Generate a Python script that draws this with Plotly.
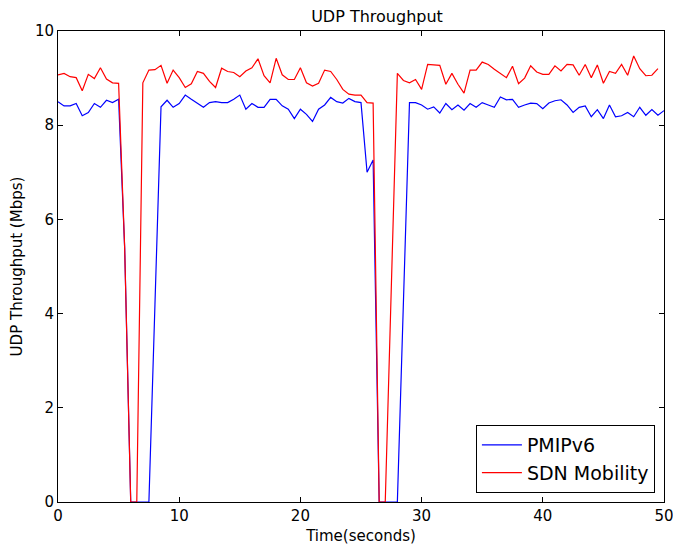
import plotly.graph_objects as go

time_red = [i * 0.5 for i in range(100)]
time_blue = [i * 0.5 for i in range(101)]

sdn_mobility = [
    9.07, 9.10, 9.03, 9.01, 8.73, 9.08, 8.99, 9.22, 8.98, 8.90,
    8.89, 5.40, 0.00, 0.00, 8.90, 9.17, 9.18, 9.27, 8.89, 9.17,
    9.01, 8.80, 8.88, 9.14, 9.10, 8.93, 8.80, 9.21, 9.14, 9.12,
    9.03, 9.15, 9.22, 9.41, 9.05, 8.90, 9.42, 9.07, 8.97, 8.97,
    9.22, 8.90, 8.83, 8.89, 9.17, 9.14, 8.97, 8.76, 8.66, 8.64,
    8.64, 8.48, 8.47, 0.00, 0.00, 4.55, 9.10, 8.95, 8.90, 8.97,
    8.76, 9.29, 9.28, 9.27, 8.87, 9.10, 8.87, 8.68, 9.17, 9.17,
    9.34, 9.29, 9.19, 9.10, 9.01, 9.25, 8.88, 9.00, 9.26, 9.13,
    9.08, 9.08, 9.26, 9.15, 9.29, 9.28, 9.06, 9.29, 9.01, 9.28,
    8.89, 9.14, 9.10, 9.29, 9.06, 9.47, 9.20, 9.05, 9.06, 9.20,
]

pmipv6 = [
    8.50, 8.41, 8.41, 8.46, 8.20, 8.27, 8.46, 8.38, 8.53, 8.48,
    8.55, 5.40, 0.00, 0.00, 0.00, 0.00, 4.20, 8.39, 8.53, 8.38,
    8.46, 8.64, 8.55, 8.47, 8.38, 8.48, 8.50, 8.48, 8.48, 8.55,
    8.64, 8.34, 8.46, 8.38, 8.38, 8.55, 8.55, 8.41, 8.34, 8.14,
    8.34, 8.23, 8.08, 8.34, 8.43, 8.59, 8.50, 8.47, 8.57, 8.50,
    8.48, 7.00, 7.26, 0.00, 0.00, 0.00, 0.00, 4.24, 8.48, 8.48,
    8.43, 8.34, 8.39, 8.26, 8.46, 8.33, 8.43, 8.32, 8.46, 8.38,
    8.48, 8.43, 8.38, 8.60, 8.54, 8.55, 8.38, 8.43, 8.47, 8.46,
    8.35, 8.47, 8.52, 8.54, 8.43, 8.27, 8.38, 8.41, 8.18, 8.33,
    8.14, 8.43, 8.18, 8.20, 8.27, 8.18, 8.38, 8.21, 8.33, 8.21,
    8.31,
]

x_ticks = [0, 10, 20, 30, 40, 50]
y_ticks = [0, 2, 4, 6, 8, 10]

FONT = "DejaVu Sans"

fig = go.Figure()
fig.add_trace(go.Scatter(x=time_blue, y=pmipv6, mode="lines", name="PMIPv6",
                         line=dict(color="#0000ff", width=1.2)))
fig.add_trace(go.Scatter(x=time_red, y=sdn_mobility, mode="lines", name="SDN Mobility",
                         line=dict(color="#ff0000", width=1.2)))

axis_common = dict(showline=True, linecolor="black", linewidth=1, mirror="ticks",
                   ticks="inside", ticklen=5, tickcolor="black", showgrid=False,
                   zeroline=False, automargin=False, ticklabeloverflow="allow",
                   tickfont=dict(family=FONT, size=15, color="black"))

fig.update_layout(
    width=673, height=548,
    margin=dict(l=58, r=9, t=31, b=46),
    paper_bgcolor="white", plot_bgcolor="white",
    font=dict(family=FONT, color="black"),
    title=dict(text="UDP Throughput", x=377 / 673, xanchor="center",
               y=1 - 16 / 548, yanchor="middle", yref="container",
               font=dict(family=FONT, size=16, color="black")),
    xaxis=dict(range=[0, 50], tickvals=x_ticks,
               title=dict(text="Time(seconds)", font=dict(family=FONT, size=15), standoff=6),
               **axis_common),
    yaxis=dict(range=[0, 10], tickvals=y_ticks,
               title=dict(text="UDP Throughput (Mbps)", font=dict(family=FONT, size=15), standoff=8),
               **axis_common),
    legend=dict(x=0.985, y=0.019, xanchor="right", yanchor="bottom",
                bordercolor="black", borderwidth=1, bgcolor="white",
                font=dict(family=FONT, size=19, color="black"),
                tracegroupgap=0, itemwidth=40),
    showlegend=True,
)

fig.write_html("out.html")
